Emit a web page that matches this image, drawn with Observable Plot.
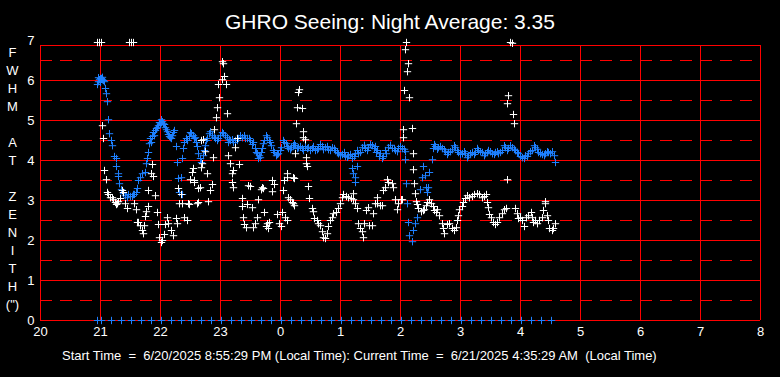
<!DOCTYPE html>
<html><head><meta charset="utf-8">
<script src="https://cdn.jsdelivr.net/npm/d3@7"></script>
<script src="https://cdn.jsdelivr.net/npm/@observablehq/plot@0.6"></script>
<style>
html,body{margin:0;padding:0;background:#000;}
#wrap{position:relative;width:780px;height:377px;background:#000;overflow:hidden;font-family:"Liberation Sans",Arial,sans-serif;color:#fff;}
#chart{position:absolute;left:0;top:0;}
.t{position:absolute;white-space:pre;line-height:1;color:#fff;}
</style></head><body>
<div id="wrap">
 <div id="chart"></div>
 <div class="t" id="title" style="left:225px;top:11px;font-size:21px;"></div>
 <div class="t" id="ylab" style="left:0;top:43.5px;width:25px;text-align:center;font-size:13px;line-height:18px;"></div>
 <div class="t" id="cap" style="left:62px;top:349px;font-size:13px;"></div>
</div>
<script>
// ---- data (time in minutes after 20:00 local, FWHM in arcsec) ----
const titleText = "GHRO Seeing: Night Average: 3.35";
const yLabelLetters = ["F","W","H","M","","A","T","","Z","E","N","I","T","H","(\")"];
const captionText = "Start Time  =  6/20/2025 8:55:29 PM (Local Time): Current Time  =  6/21/2025 4:35:29 AM  (Local Time)";
const xTicks = [20,21,22,23,24,25,26,27,28,29,30,31,32];
const yTicks = [0,1,2,3,4,5,6,7];
const solidY = [0,1,2,3,4,5,6];
const dashedY = [0.5,1.5,2.5,3.5,4.5,5.5,6.5];
const frameTop = 6.875;

// blue series (zenith-corrected)
const bluePts = [[57,5.9],[58,5.97],[59,6.02],[60,6.05],[61,6.05],[62,6.02],[63,6.0],[64,5.97],[65,5.8],[66,5.67],[67,5.47],[68,5.02],[69,4.67],[71,4.5],[72,4.37],[74,4.1],[76,4.05],[76,3.85],[78,3.67],[78,3.6],[79,3.42],[81,3.27],[83,3.17],[85,3.12],[87,3.07],[88,3.15],[90,3.1],[92,3.1],[93,3.15],[94,3.15],[96,3.2],[97,3.3],[98,3.5],[100,3.57],[102,3.67],[105,3.7],[106,3.92],[107,4.05],[108,4.2],[109,4.42],[110,4.55],[112,4.6],[113,4.7],[115,4.75],[117,4.82],[118,4.87],[120,4.92],[121,4.95],[122,4.97],[123,4.92],[125,4.82],[127,4.72],[128,4.65],[130,4.57],[132,4.62],[134,4.75],[136,4.35],[137,3.95],[138,3.55],[139,3.2],[141,3.57],[142,3.15],[142,4.05],[144,4.45],[147,4.5],[149,4.6],[151,4.67],[153,4.62],[155,4.57],[157,4.35],[158,4.17],[161,3.95],[163,4.12],[165,4.37],[167,4.55],[169,4.67],[172,4.62],[175,4.55],[177,4.5],[180,4.62],[183,4.67],[187,4.57],[188,4.45],[190,4.5],[192,4.52],[195,4.5],[198,4.55],[202,4.57],[204,4.62],[207,4.55],[210,4.5],[213,4.45],[215,4.3],[217,4.17],[218,4.05],[220,4.07],[222,4.3],[224,4.5],[227,4.57],[229,4.5],[231,4.37],[233,4.25],[236,4.12],[238,4.17],[241,4.32],[243,4.5],[246,4.42],[248,4.3],[251,4.32],[253,4.37],[255,4.37],[258,4.32],[262,4.3],[265,4.35],[268,4.32],[272,4.3],[275,4.25],[278,4.3],[282,4.35],[285,4.32],[288,4.27],[292,4.32],[295,4.25],[298,4.17],[302,4.15],[305,4.1],[308,4.12],[312,4.05],[315,4.17],[318,4.17],[322,4.32],[325,4.3],[328,4.32],[332,4.37],[335,4.35],[337,4.25],[340,4.17],[343,4.1],[346,4.17],[348,4.32],[352,4.3],[355,4.25],[358,4.3],[362,4.3],[365,4.22],
[312,3.8],[313,3.67],[315,3.57],[317,3.85],[315,3.45],[365,4.02],[366,3.42],[367,2.92],[368,2.45],[369,2.12],[372,1.97],[373,2.25],[375,2.42],[377,2.57],[378,2.8],[380,3.27],[382,3.57],[383,3.85],[385,3.62],[386,3.32],[387,3.2],[388,3.32],[389,3.7],[392,4.02],
[393,4.3],[395,4.35],[398,4.32],[402,4.3],[405,4.22],[408,4.2],[412,4.27],[415,4.32],[418,4.2],[422,4.17],[425,4.17],[428,4.12],[432,4.2],[435,4.2],[438,4.25],[442,4.2],[445,4.17],[448,4.25],[452,4.17],[455,4.2],[458,4.17],[462,4.25],[465,4.32],[468,4.3],[472,4.32],[475,4.25],[478,4.17],[482,4.07],[485,4.12],[488,4.17],[492,4.25],[495,4.32],[498,4.2],[502,4.15],[505,4.17],[508,4.2],[512,4.22],[514,4.12],[515,3.95]];

const blueBandPts = [[58,6.07],[60,5.95],[62,6.08],[111,4.45],[114,4.62],[116,4.8],[119,4.95],[121,5.02],[124,4.9],[126,4.77],[129,4.6],[131,4.55],[133,4.7],
[143,4.3],[146,4.55],[150,4.7],[154,4.55],[156,4.45],[160,4.05],[164,4.25],[166,4.5],[170,4.72],[174,4.58],[178,4.55],[182,4.7],[185,4.62],[189,4.52],[193,4.45],[197,4.5],[200,4.62],[205,4.55],[209,4.55],[212,4.4],[216,4.2],[219,4.12],[221,4.2],[223,4.42],[226,4.62],[230,4.45],[234,4.2],[237,4.15],[240,4.25],[244,4.45],[247,4.35],[250,4.27],[254,4.42],[257,4.3],[260,4.35],[263,4.25],[267,4.3],[270,4.25],[273,4.35],[277,4.27],[280,4.4],[283,4.27],[287,4.35],[290,4.25],[294,4.3],[297,4.2],[300,4.12],[304,4.2],[307,4.08],[310,4.15],[314,4.1],[317,4.25],[320,4.2],[324,4.38],[327,4.25],[330,4.4],[334,4.3],[336,4.2],[339,4.1],[342,4.05],[345,4.25],[350,4.38],[354,4.3],[357,4.22],[360,4.35],[364,4.28],
[394,4.4],[397,4.28],[400,4.35],[404,4.27],[407,4.15],[410,4.22],[414,4.37],[417,4.25],[420,4.15],[424,4.22],[427,4.07],[430,4.17],[434,4.15],[437,4.3],[440,4.22],[444,4.12],[447,4.2],[450,4.22],[454,4.15],[457,4.22],[460,4.2],[464,4.37],[467,4.25],[470,4.37],[474,4.28],[477,4.2],[480,4.1],[484,4.05],[487,4.1],[490,4.22],[494,4.37],[497,4.28],[500,4.17],[504,4.12],[507,4.22],[510,4.17]];

// blue markers on the zero line (10-minute samples)
const zeroTimes = [57,61,71,81,91,101,111,121,131,141,151,161,171,181,191,201,211,221,231,241,251,261,271,281,291,301,311,321,331,341,351,361,371,381,391,401,411,421,431,441,451,461,471,481,491,501,511];

// white series (raw)
const whitePts = [[57,6.95],[59,6.95],[61,6.95],[89,6.95],[91,6.95],[93,6.95],[366,6.95],[470,6.95],[472,6.93],
[62,4.87],[63,4.55],[64,3.75],[66,3.52],[67,3.2],[68,3.15],[70,3.07],[72,3.07],[73,3.02],[75,2.95],[76,2.9],[77,2.92],[78,2.97],[80,3.05],[82,3.25],[83,3.2],[85,2.92],[87,2.8],[94,2.92],[96,2.77],[97,2.45],[98,2.45],[100,2.37],[102,2.25],[103,2.17],[104,2.37],[105,2.6],[106,2.72],[108,2.85],[108,3.25],[111,3.67],[112,3.9],[113,3.6],[115,3.12],[117,2.7],[118,2.4],[119,2.07],[121,1.95],[122,2.0],[124,2.15],[125,2.4],[127,2.57],[128,2.42],[131,2.25],[133,2.12],[136,2.55],[137,2.42],[138,3.3],[139,2.92],[141,3.15],[142,2.92],[144,2.57],[147,2.5],[148,2.92],[150,3.52],[152,3.7],[153,3.8],[154,3.5],
[182,6.47],[183,6.42],[184,6.1],[182,6.02],[178,5.9],[186,5.9],[179,5.57],[177,5.32],[187,5.17],[176,5.07],[174,4.77],[163,4.52],[161,4.5],[165,4.22],[173,4.07],[161,3.82],[162,3.92],[154,3.45],[167,3.67],[158,3.3],[160,3.32],[172,3.4],[170,3.25],[158,2.95],[157,2.92],[168,2.97],[149,2.9],[188,4.12],[190,3.92],[195,4.32],[197,4.55],[199,3.9],[193,3.75],[192,3.67],[192,3.45],[193,3.32],[208,3.37],[210,3.35],[222,3.32],[221,3.27],[223,3.3],[232,3.22],[232,3.5],[234,3.4],[243,3.25],[244,3.5],[247,3.67],[247,3.57],[253,3.57],[202,3.05],[207,2.9],[202,2.85],[212,2.82],[218,3.02],[224,2.7],[203,2.57],[204,2.4],[206,2.32],[213,2.32],[215,2.42],[217,2.57],[227,2.42],[228,2.3],[226,2.35],[229,2.45],[237,2.65],[239,2.42],[241,2.35],[242,2.7],[245,2.57],[247,2.5],[248,3.07],[250,3.02],[252,2.95],
[259,5.77],[258,5.7],[257,5.32],[262,5.3],[256,4.92],[263,4.72],[263,4.57],[265,4.52],[255,4.17],[266,4.07],[266,3.92],[267,3.85],[254,3.55],[268,3.35],[253,2.92],[254,2.87],[269,3.05],[272,2.8],[273,2.72],[274,2.55],[277,2.5],[278,2.42],[280,2.37],[282,2.22],[283,2.07],[285,2.05],[287,2.17],[288,2.35],[290,2.5],[292,2.57],[293,2.67],[296,2.7],[298,2.8],[300,2.92],[302,3.07],[303,3.15],[306,3.1],[308,3.07],[311,3.05],[313,3.02],[313,3.17],[315,2.92],[317,2.8],[318,2.42],[320,2.3],[322,2.22],[323,2.07],[324,2.42],[329,2.37],[332,2.37],[326,2.75],[328,2.82],[333,2.67],[335,2.92],[337,2.92],[337,3.07],[340,2.87],[342,2.87],[343,3.25],[345,3.32],[347,3.52],[348,3.45],[352,3.42],[353,3.32],[355,3.02],[357,2.77],[358,2.92],[361,3.02],
[365,6.77],[368,6.42],[367,6.22],[364,5.75],[369,5.57],[363,4.77],[372,4.8],[363,4.57],[373,4.17],[373,3.77],[374,3.42],[375,3.17],[362,3.02],[376,2.97],[377,2.9],[378,2.8],[381,2.72],[383,2.75],[384,2.77],[386,2.87],[387,2.95],[389,3.02],[391,2.92],[393,2.85],[394,2.75],[396,2.7],[397,2.77],[399,2.62],[402,2.42],[403,2.3],[404,2.17],[407,2.4],[409,2.42],[412,2.3],[414,2.25],[416,2.32],[417,2.5],[418,2.62],[419,2.77],[422,2.85],[423,2.95],[425,3.05],[427,3.12],[429,3.07],[432,3.1],[434,3.15],[437,3.17],[439,3.15],[442,3.07],[444,3.1],[446,3.15],[447,2.95],[448,2.82],[449,2.65],[451,2.57],[453,2.45],[455,2.4],[457,2.45],[459,2.57],[462,2.67],[464,2.77],[466,2.8],[467,3.52],[475,2.8],[477,2.67],[478,2.55],[480,2.57],[482,2.5],[484,2.35],[486,2.57],[488,2.62],[491,2.7],[492,2.57],[493,2.45],[495,2.5],[497,2.42],[499,2.5],[502,2.57],[503,2.75],[505,2.92],[505,2.97],[507,2.62],[508,2.5],[509,2.3],[512,2.25],[513,2.3],[515,2.42],[468,5.62],[467,5.42],[473,5.15],[474,4.92]];

// ---- build ----
const toRow = ([m, v]) => ({t: 20 + m / 60, v});
const blue = bluePts.concat(blueBandPts).map(toRow);
const white = whitePts.map(toRow);
const zeros = zeroTimes.map(m => ({t: 20 + m / 60, v: 0}));
const blueColor = "#1e80ff";
const gridColor = "#ff0000";
const plusR = 2.5;

const chart = Plot.plot({
  width: 780, height: 377,
  marginLeft: 40, marginRight: 20, marginTop: 40, marginBottom: 57,
  style: {background: "#000", color: "#fff", fontFamily: "'Liberation Sans', Arial, sans-serif", fontSize: "13px", overflow: "visible"},
  x: {domain: [20, 32], ticks: xTicks, tickFormat: d => String(d % 24), tickSize: 0, tickPadding: 6, label: null},
  y: {domain: [0, 7], ticks: yTicks, tickFormat: d => String(d), tickSize: 0, tickPadding: 6, label: null},
  marks: [
    Plot.ruleY(dashedY, {x1: 20, x2: 32, stroke: gridColor, strokeWidth: 1, strokeDasharray: "12,8"}),
    Plot.ruleY(solidY.concat([frameTop]), {x1: 20, x2: 32, stroke: gridColor, strokeWidth: 1}),
    Plot.ruleX(xTicks, {y1: 0, y2: frameTop, stroke: gridColor, strokeWidth: 1}),
    Plot.dot(blue, {x: "t", y: "v", symbol: "plus", r: plusR, stroke: blueColor, fill: "none", strokeWidth: 1}),
    Plot.dot(zeros, {x: "t", y: "v", symbol: "plus", r: plusR, stroke: blueColor, fill: "none", strokeWidth: 1}),
    Plot.dot(white, {x: "t", y: "v", symbol: "plus", r: plusR, stroke: "#fff", fill: "none", strokeWidth: 1})
  ]
});
document.getElementById("chart").appendChild(chart);
document.getElementById("title").textContent = titleText;
document.getElementById("ylab").textContent = yLabelLetters.join("\n");
document.getElementById("cap").textContent = captionText;
</script>
</body></html>
